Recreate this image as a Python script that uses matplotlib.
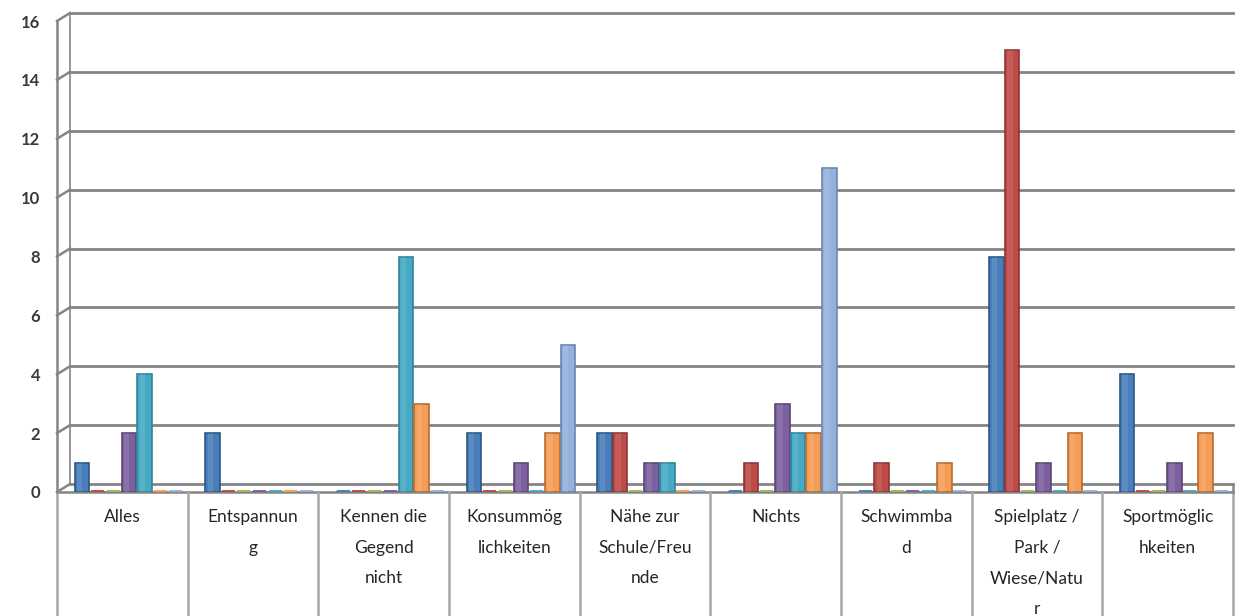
"""Clustered column chart: answers per category, seven groups (Excel style)."""
import matplotlib

matplotlib.use("Agg")
import matplotlib.pyplot as plt
import matplotlib.transforms as mtransforms
import numpy as np

CATEGORIES = [
    "Alles",
    "Entspannun\ng",
    "Kennen die\nGegend\nnicht",
    "Konsummög\nlichkeiten",
    "Nähe zur\nSchule/Freu\nnde",
    "Nichts",
    "Schwimmba\nd",
    "Spielplatz /\nPark /\nWiese/Natu\nr",
    "Sportmöglic\nhkeiten",
]

# one list per series (colour order of the original chart)
SERIES_1 = [1, 2, 0, 2, 2, 0, 0, 8, 4]
SERIES_2 = [0, 0, 0, 0, 2, 1, 1, 15, 0]
SERIES_3 = [0, 0, 0, 0, 0, 0, 0, 0, 0]
SERIES_4 = [2, 0, 0, 1, 1, 3, 0, 1, 1]
SERIES_5 = [4, 0, 8, 0, 1, 2, 0, 0, 0]
SERIES_6 = [0, 0, 3, 2, 0, 2, 1, 2, 2]
SERIES_7 = [0, 0, 0, 5, 0, 11, 0, 0, 0]

Y_TICKS = [0, 2, 4, 6, 8, 10, 12, 14, 16]

SERIES = [SERIES_1, SERIES_2, SERIES_3, SERIES_4, SERIES_5, SERIES_6, SERIES_7]
FACE_COLORS = ["#4A7EBB", "#BE4B48", "#98B954", "#7D60A0", "#46AAC5", "#F59D56", "#93B1DB"]
EDGE_COLORS = ["#2C5785", "#8C3836", "#71893F", "#5C4776", "#31849B", "#B66D31", "#6C86B0"]
GRID_COLOR = "#858585"

W, H, DPI = 12.44, 6.16, 100
AX_LEFT, AX_RIGHT = 57, 1233
AX_TOP, AX_BOTTOM = 21, 492
DEPTH_X, DEPTH_Y = 13, 8  # 3-D wall offset in pixels

fig = plt.figure(figsize=(W, H), dpi=DPI)
ax = fig.add_axes([
    AX_LEFT / (W * DPI),
    1 - AX_BOTTOM / (H * DPI),
    (AX_RIGHT - AX_LEFT) / (W * DPI),
    (AX_BOTTOM - AX_TOP) / (H * DPI),
])
ax.set_xlim(-0.5, len(CATEGORIES) - 0.5)
ax.set_ylim(Y_TICKS[0], Y_TICKS[-1])
for spine in ax.spines.values():
    spine.set_visible(False)

back = ax.transData + mtransforms.ScaledTranslation(DEPTH_X / DPI, DEPTH_Y / DPI, fig.dpi_scale_trans)
x0, x1 = ax.get_xlim()
dx = DEPTH_X / (AX_RIGHT - AX_LEFT) * (x1 - x0)


def fig_line(p, q, **kw):
    fig.add_artist(plt.Line2D([p[0] / (W * DPI), q[0] / (W * DPI)],
                              [p[1] / (H * DPI), q[1] / (H * DPI)], **kw))


# back-wall gridlines + left-wall diagonals
for yv in Y_TICKS:
    ax.plot([x0, x1 - dx], [yv, yv], transform=back, color=GRID_COLOR, lw=2.0,
            clip_on=False, zorder=1)
    fig_line(ax.transData.transform((x0, yv)), back.transform((x0, yv)),
             color=GRID_COLOR, lw=1.8, zorder=1)
# left wall front edge and back edge
ax.plot([x0, x0], [Y_TICKS[0], Y_TICKS[-1]], color=GRID_COLOR, lw=1.8, clip_on=False, zorder=1)
ax.plot([x0, x0], [Y_TICKS[0], Y_TICKS[-1]], transform=back, color=GRID_COLOR, lw=1.2,
        clip_on=False, zorder=1)
# floor front edge and right diagonal
ax.plot([x0, x1], [0, 0], color=GRID_COLOR, lw=1.8, clip_on=False, zorder=1)
fig_line(ax.transData.transform((x1, 0)), back.transform((x1 - dx, 0)),
         color=GRID_COLOR, lw=1.8)

# bars
n_series = len(SERIES)
step = 0.12
bar_w = 0.112
shift = 0.05
x = np.arange(len(CATEGORIES))
for i, (vals, fc, ec) in enumerate(zip(SERIES, FACE_COLORS, EDGE_COLORS)):
    pos = x + shift + (i - (n_series - 1) / 2) * step
    vals = np.array(vals, dtype=float)
    ax.bar(pos, vals, width=bar_w, color=fc, edgecolor=ec, linewidth=1.2, zorder=3)
    # soft highlight for a cylinder look
    ax.bar(pos - bar_w * 0.15, vals, width=bar_w * 0.35, color="white", alpha=0.10,
           linewidth=0, zorder=4)
    zero = vals == 0
    ax.hlines(np.zeros(zero.sum()), pos[zero] - bar_w * 0.45, pos[zero] + bar_w * 0.45,
              colors=fc, lw=2.8, zorder=3)

# y ticks
ax.set_yticks(Y_TICKS)
ax.set_yticklabels([str(t) for t in Y_TICKS], fontsize=12, fontweight="bold",
                   color="#3A3A3A", family="Lato")
ax.tick_params(axis="y", length=0, pad=12)
ax.set_xticks([])

# category label table below the plot
below = (H * DPI - AX_BOTTOM) / (AX_BOTTOM - AX_TOP)
xa = mtransforms.blended_transform_factory(ax.transData, ax.transAxes)
for k in range(len(CATEGORIES) + 1):
    ax.plot([k - 0.5, k - 0.5], [0, -below - 0.01], transform=xa, color="#A6A6A6",
            lw=1.8, clip_on=False, zorder=1)
for i, label in enumerate(CATEGORIES):
    ax.text(i, -0.036, label, transform=xa, ha="center", va="top", fontsize=12.5,
            family="Lato", color="#262626", linespacing=2.12)

fig.savefig("out.png", dpi=DPI, facecolor="white")
